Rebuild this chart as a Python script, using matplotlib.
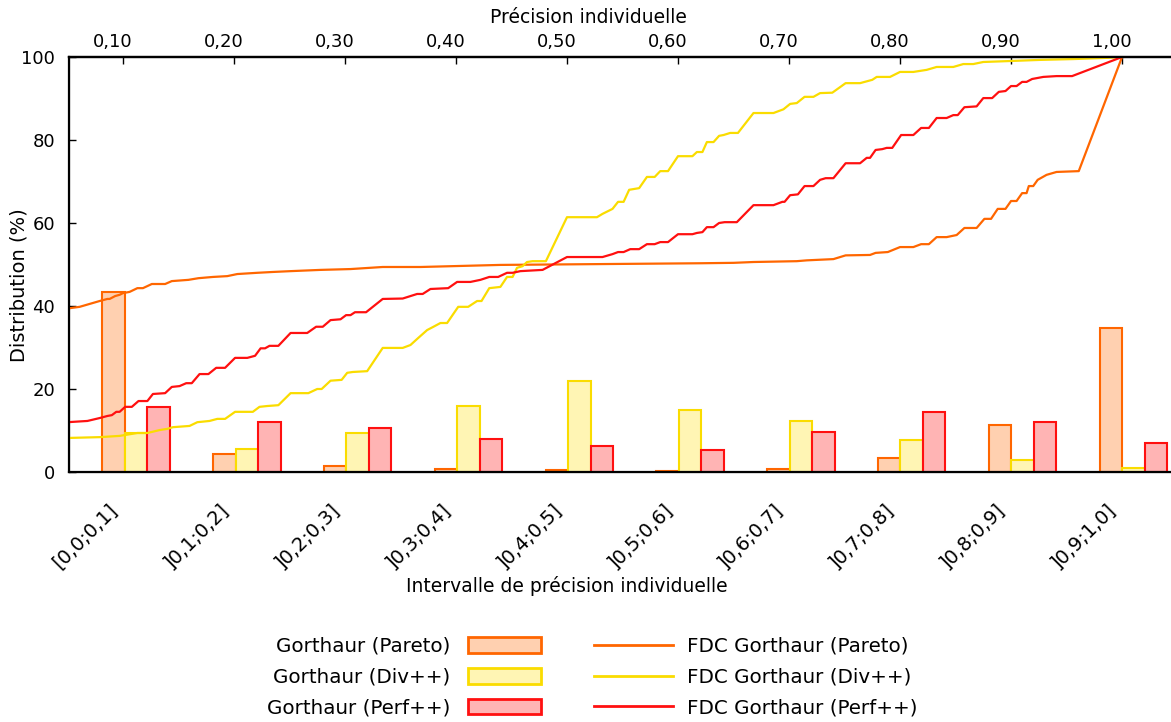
import matplotlib
matplotlib.use('Agg')
import matplotlib.pyplot as plt
import numpy as np
from matplotlib.transforms import ScaledTranslation
from matplotlib.patches import Patch
from matplotlib.lines import Line2D

# bins of individual precision
intervals = ['[0,0;0,1]', ']0,1;0,2]', ']0,2;0,3]', ']0,3;0,4]', ']0,4;0,5]',
             ']0,5;0,6]', ']0,6;0,7]', ']0,7;0,8]', ']0,8;0,9]', ']0,9;1,0]']

# distribution per bin (%)
pareto = [43.4, 4.4, 1.4, 0.8, 0.5, 0.3, 0.7, 3.4, 11.4, 34.7]
div = [9.3, 5.6, 9.4, 16.0, 22.0, 14.9, 12.4, 7.7, 2.8, 0.9]
perf = [15.6, 12.0, 10.5, 7.9, 6.2, 5.4, 9.7, 14.5, 12.0, 7.1]

# cumulative distribution (FDC) vs individual precision
pareto_v = [0.050, 0.061, 0.070, 0.079, 0.086, 0.088, 0.093, 0.097, 0.100, 0.106,
            0.113, 0.118, 0.126, 0.138, 0.144, 0.159, 0.168, 0.181, 0.194, 0.203,
            0.221, 0.235, 0.251, 0.278, 0.305, 0.334, 0.368, 0.440, 0.530, 0.620,
            0.650, 0.668, 0.707, 0.716, 0.740, 0.751, 0.773, 0.778, 0.789, 0.800,
            0.812, 0.819, 0.826, 0.833, 0.842, 0.851, 0.858, 0.869, 0.876, 0.882,
            0.888, 0.895, 0.900, 0.905, 0.910, 0.914, 0.916, 0.920, 0.924, 0.932,
            0.941, 0.961, 1.000]
pareto_cdf = [39.4, 39.8, 40.5, 41.2, 41.7, 41.7, 42.4, 42.7, 43.1, 43.4,
              44.3, 44.3, 45.3, 45.3, 46.0, 46.3, 46.7, 47.0, 47.2, 47.7,
              48.0, 48.2, 48.4, 48.7, 48.9, 49.4, 49.4, 49.9, 50.1, 50.3,
              50.4, 50.6, 50.8, 51.0, 51.3, 52.2, 52.3, 52.8, 53.0, 54.2,
              54.2, 54.9, 54.9, 56.6, 56.6, 57.1, 58.8, 58.8, 61.0, 61.0,
              63.4, 63.4, 65.3, 65.3, 67.2, 67.2, 68.9, 68.9, 70.4, 71.6,
              72.3, 72.5, 100]

div_v = [0.050, 0.079, 0.097, 0.113, 0.122, 0.133, 0.140, 0.145, 0.160, 0.167,
         0.178, 0.185, 0.192, 0.201, 0.217, 0.223, 0.230, 0.240, 0.251, 0.267,
         0.275, 0.279, 0.287, 0.297, 0.302, 0.307, 0.320, 0.334, 0.352, 0.359,
         0.366, 0.374, 0.379, 0.386, 0.392, 0.402, 0.411, 0.419, 0.423, 0.430,
         0.440, 0.446, 0.451, 0.455, 0.460, 0.464, 0.469, 0.481, 0.500, 0.527,
         0.532, 0.541, 0.546, 0.551, 0.556, 0.565, 0.572, 0.579, 0.584, 0.591,
         0.600, 0.613, 0.617, 0.622, 0.626, 0.632, 0.637, 0.641, 0.647, 0.654,
         0.668, 0.686, 0.695, 0.701, 0.707, 0.714, 0.722, 0.728, 0.739, 0.751,
         0.764, 0.775, 0.779, 0.791, 0.800, 0.812, 0.824, 0.833, 0.848, 0.857,
         0.866, 0.875, 0.896, 0.926, 0.956, 0.987, 1.000]
div_cdf = [8.2, 8.4, 8.7, 9.4, 9.4, 10.1, 10.4, 10.8, 11.1, 12.0,
           12.3, 12.8, 12.8, 14.5, 14.5, 15.7, 15.9, 16.1, 19.0, 19.0,
           20.0, 20.0, 22.0, 22.2, 23.9, 24.1, 24.3, 29.9, 29.9, 30.6,
           32.3, 34.2, 34.9, 35.9, 35.9, 39.8, 39.8, 41.2, 41.2, 44.3,
           44.6, 47.0, 47.0, 49.2, 49.6, 50.6, 50.8, 50.8, 61.4, 61.4,
           62.2, 63.4, 65.1, 65.1, 68.0, 68.4, 71.1, 71.1, 72.5, 72.5,
           76.1, 76.1, 77.1, 77.1, 79.5, 79.5, 81.0, 81.2, 81.7, 81.7,
           86.5, 86.5, 87.4, 88.7, 88.9, 90.4, 90.4, 91.3, 91.4, 93.7,
           93.7, 94.5, 95.2, 95.2, 96.4, 96.4, 96.9, 97.6, 97.6, 98.3,
           98.3, 98.8, 99.0, 99.3, 99.5, 99.8, 100]

perf_v = [0.050, 0.068, 0.079, 0.086, 0.090, 0.094, 0.097, 0.102, 0.108, 0.114,
          0.122, 0.127, 0.138, 0.144, 0.151, 0.157, 0.162, 0.169, 0.177, 0.184,
          0.192, 0.201, 0.212, 0.219, 0.224, 0.228, 0.232, 0.240, 0.251, 0.266,
          0.274, 0.280, 0.287, 0.296, 0.301, 0.305, 0.309, 0.319, 0.334, 0.352,
          0.365, 0.370, 0.377, 0.393, 0.401, 0.413, 0.422, 0.430, 0.438, 0.446,
          0.451, 0.458, 0.478, 0.500, 0.532, 0.541, 0.546, 0.551, 0.557, 0.565,
          0.572, 0.579, 0.584, 0.591, 0.600, 0.613, 0.617, 0.622, 0.626, 0.632,
          0.637, 0.642, 0.653, 0.668, 0.686, 0.694, 0.696, 0.701, 0.708, 0.714,
          0.722, 0.728, 0.733, 0.740, 0.751, 0.764, 0.770, 0.773, 0.778, 0.784,
          0.788, 0.793, 0.801, 0.812, 0.819, 0.826, 0.833, 0.842, 0.848, 0.852,
          0.858, 0.869, 0.875, 0.883, 0.889, 0.895, 0.900, 0.905, 0.910, 0.914,
          0.919, 0.929, 0.941, 0.955, 1.000]
perf_cdf = [12.0, 12.3, 13.0, 13.5, 13.7, 14.5, 14.5, 15.7, 15.7, 17.1,
            17.1, 18.8, 19.0, 20.5, 20.7, 21.4, 21.4, 23.6, 23.6, 25.1,
            25.1, 27.5, 27.5, 28.0, 29.8, 29.8, 30.4, 30.4, 33.5, 33.5,
            35.0, 35.0, 36.6, 36.8, 37.8, 37.8, 38.5, 38.5, 41.7, 41.8,
            42.9, 42.9, 44.1, 44.3, 45.8, 45.8, 46.3, 47.0, 47.0, 48.0,
            48.0, 48.4, 48.7, 51.8, 51.8, 52.5, 53.0, 53.0, 53.7, 53.7,
            54.9, 54.9, 55.4, 55.4, 57.3, 57.3, 57.6, 57.8, 59.0, 59.0,
            60.0, 60.2, 60.2, 64.3, 64.3, 65.1, 65.1, 66.7, 66.9, 68.9,
            68.9, 70.4, 70.8, 70.8, 74.4, 74.4, 75.7, 75.7, 77.6, 77.8,
            78.1, 78.1, 81.2, 81.2, 82.9, 82.9, 85.3, 85.3, 86.0, 86.0,
            87.9, 88.1, 90.1, 90.1, 91.6, 91.8, 93.0, 93.0, 94.0, 94.0,
            94.7, 95.2, 95.4, 95.4, 100]

top_ticks = [0.1, 0.2, 0.3, 0.4, 0.5, 0.6, 0.7, 0.8, 0.9, 1.0]
top_labels = ['0,10', '0,20', '0,30', '0,40', '0,50', '0,60', '0,70', '0,80', '0,90', '1,00']

orange, yellow, red = '#ff6600', '#fadc00', '#ff1010'
orange_f, yellow_f, red_f = '#ffd0b0', '#fff5b4', '#ffb4b4'

fig = plt.figure(figsize=(11.71, 7.22), dpi=100)
ax = fig.add_axes([69 / 1171, 250 / 722, 1102 / 1171, 415 / 722])

x = np.arange(len(intervals))
w = 0.203
ax.bar(x - w, pareto, w, color=orange_f, edgecolor=orange, linewidth=1.5)
ax.bar(x, div, w, color=yellow_f, edgecolor=yellow, linewidth=1.5)
ax.bar(x + w, perf, w, color=red_f, edgecolor=red, linewidth=1.5)

ax.set_xlim(-0.605, 9.34)
ax.set_ylim(0, 100)
ax.set_yticks([0, 20, 40, 60, 80, 100])
ax.tick_params(axis='y', direction='in', length=5, width=1, labelsize=13, pad=10)
ax.set_xticks(x)
ax.set_xticklabels(intervals, rotation=45, ha='right', va='top', rotation_mode='anchor')
ax.tick_params(axis='x', length=0, labelsize=14, pad=20)
ax.spines['right'].set_visible(False)
for s in ['left', 'bottom', 'top']:
    ax.spines[s].set_linewidth(1.6)
ax.set_ylabel('Distribution (%)', fontsize=14)
ax.yaxis.set_label_coords(-0.037, 0.45)
ax.set_xlabel('Intervalle de précision individuelle', fontsize=13.5)
ax.xaxis.set_label_coords(0.452, -0.251)

ax2 = ax.twiny()
ax2.plot(pareto_v, pareto_cdf, color=orange, lw=1.6)
ax2.plot(div_v, div_cdf, color=yellow, lw=1.6)
ax2.plot(perf_v, perf_cdf, color=red, lw=1.6)
ax2.set_xlim(0.0514, 1.0441)
ax2.set_xticks(top_ticks)
ax2.set_xticklabels(top_labels)
ax2.tick_params(axis='x', direction='in', length=5, width=1, labelsize=13, pad=4)
ax2.spines['right'].set_visible(False)
ax2.spines['top'].set_linewidth(1.6)
ax2.set_xlabel('Précision individuelle', fontsize=13.5)
ax2.xaxis.set_label_coords(0.471, 1.082)

shift_top = ScaledTranslation(-10 / 100, 0, fig.dpi_scale_trans)
for lab in ax2.xaxis.get_majorticklabels():
    lab.set_transform(lab.get_transform() + shift_top)
shift_bot = ScaledTranslation(-28 / 100, 0, fig.dpi_scale_trans)
for lab in ax.xaxis.get_majorticklabels():
    lab.set_transform(lab.get_transform() + shift_bot)

bar_handles = [Patch(facecolor=orange_f, edgecolor=orange, linewidth=2),
               Patch(facecolor=yellow_f, edgecolor=yellow, linewidth=2),
               Patch(facecolor=red_f, edgecolor=red, linewidth=2)]
bar_labels = ['Gorthaur (Pareto)', 'Gorthaur (Div++)', 'Gorthaur (Perf++)']
line_handles = [Line2D([], [], color=orange, lw=2),
                Line2D([], [], color=yellow, lw=2),
                Line2D([], [], color=red, lw=2)]
line_labels = ['FDC Gorthaur (Pareto)', 'FDC Gorthaur (Div++)', 'FDC Gorthaur (Perf++)']

fig.legend(bar_handles, bar_labels, loc='center right', bbox_to_anchor=(541 / 1171, 1 - 677 / 722),
           frameon=False, markerfirst=False, handlelength=3.7, handleheight=0.85,
           handletextpad=0.85, labelspacing=0.6, borderpad=0, borderaxespad=0, fontsize=14.3)
fig.legend(line_handles, line_labels, loc='center left', bbox_to_anchor=(594 / 1171, 1 - 677 / 722),
           frameon=False, handlelength=3.96, handletextpad=0.71, labelspacing=0.6,
           borderpad=0, borderaxespad=0, fontsize=14.3)

fig.savefig('out.png', dpi=100)
